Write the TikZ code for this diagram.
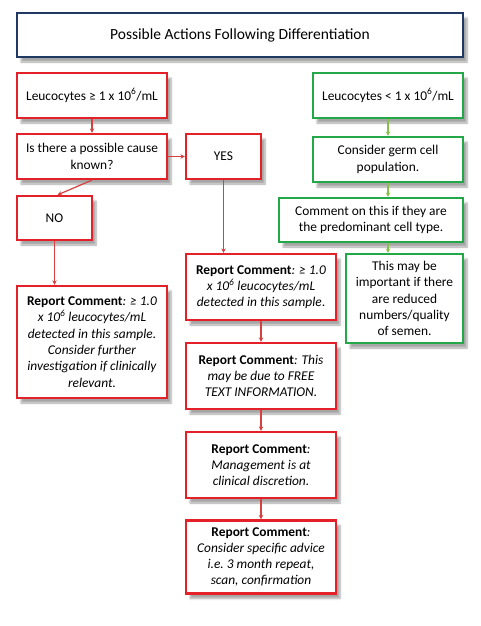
\documentclass[tikz,border=0pt]{standalone}
\usepackage{fontspec}
\setmainfont{Carlito}
\usepackage{tikz}
\usepackage{xcolor}
\usetikzlibrary{shapes,arrows,positioning,calc,shadows,shadows.blur}
\usetikzlibrary{arrows.meta}
\definecolor{flowred}{RGB}{228,32,40}
\definecolor{flowgreen}{RGB}{34,168,70}
\definecolor{titlenavy}{RGB}{31,56,100}
\definecolor{linkred}{RGB}{214,64,64}
\definecolor{linkgreen}{RGB}{136,192,78}
\newcommand{\tsix}{10\textsuperscript{6}}
\newcommand{\repc}{\textbf{Report Comment}}

\begin{document}
\begin{tikzpicture}[
    x=1pt, y=-1pt,
    box/.style={rectangle, fill=white, line width=2.2pt, align=center,
        font=\fontsize{13.4}{16.3}\selectfont, inner sep=1pt,
        blur shadow={shadow xshift=4pt, shadow yshift=-5pt, shadow opacity=35, shadow blur steps=6}},
    redbox/.style={box, draw=flowred},
    greenbox/.style={box, draw=flowgreen},
    titlebox/.style={box, draw=titlenavy, font=\fontsize{15.5}{18}\selectfont},
    redlink/.style={-{Stealth[length=4.5pt, width=4.5pt]}, linkred, line width=1.2pt},
    greenlink/.style={-{Stealth[length=4.5pt, width=4.5pt]}, linkgreen, line width=1.2pt}
]
\useasboundingbox (0,0) rectangle (480,626);

% Title
\node[titlebox, minimum width=446, minimum height=44] (title) at (240,35) {Possible Actions Following Differentiation};

% Left branch (high count)
\node[redbox, minimum width=150, minimum height=45] (leuhigh) at (92,95.5) {Leucocytes ≥ 1 x \tsix/mL};
\node[redbox, minimum width=150, minimum height=45] (cause) at (92,156.5) {Is there a possible cause\\known?};
\node[redbox, minimum width=75, minimum height=45] (yes) at (223.5,156.5) {YES};
\node[redbox, minimum width=75, minimum height=44] (no) at (54.5,218) {NO};
\node[redbox, minimum width=150, minimum height=112] (repno) at (92,342)
    {\repc\textit{: ≥ 1.0}\\\textit{x \tsix{} leucocytes/mL}\\\textit{detected in this sample.}\\\textit{Consider further}\\\textit{investigation if clinically}\\\textit{relevant.}};

% Middle column (YES)
\node[redbox, minimum width=150, minimum height=66] (repa) at (261,287)
    {\repc\textit{: ≥ 1.0}\\\textit{x \tsix{} leucocytes/mL}\\\textit{detected in this sample}.};
\node[redbox, minimum width=150, minimum height=66] (repb) at (261,376)
    {\repc\textit{: This}\\\textit{may be due to FREE}\\\textit{TEXT INFORMATION.}};
\node[redbox, minimum width=150, minimum height=66] (repc) at (261,465)
    {\repc\textit{:}\\\textit{Management is at}\\\textit{clinical discretion.}};
\node[redbox, minimum width=150, minimum height=73] (repd) at (261,557)
    {\repc\textit{:}\\\textit{Consider specific advice}\\\textit{i.e.\ 3 month repeat,}\\\textit{scan, confirmation}};

% Right branch (low count)
\node[greenbox, minimum width=150, minimum height=45] (leulow) at (388,95.5) {Leucocytes < 1 x \tsix/mL};
\node[greenbox, minimum width=150, minimum height=45] (germ) at (388,159.5) {Consider germ cell\\population.};
\node[greenbox, minimum width=184, minimum height=44] (predom) at (371,220) {Comment on this if they are\\the predominant cell type.};
\node[greenbox, minimum width=117, minimum height=89] (semen) at (404.5,298.5) {This may be\\important if there\\are reduced\\numbers/quality\\of semen.};

% Red connectors
\draw[redlink] (leuhigh) -- (cause);
\draw[redlink] (cause) -- (yes);
\draw[redlink] (cause.south) -- ($(no.north)+(3,0)$);
\draw[redlink] (no.south) -- (no.south |- repno.north);
\draw[redlink] (yes.south) -- (yes.south |- repa.north);
\draw[redlink] (repa) -- (repb);
\draw[redlink] (repb) -- (repc);
\draw[redlink] (repc) -- (repd);

% Green connectors
\draw[greenlink] (leulow) -- (germ);
\draw[greenlink] (germ.south) -- (germ.south |- predom.north);
\draw[greenlink] (germ.south |- predom.south) -- (germ.south |- semen.north);

\end{tikzpicture}
\end{document}
